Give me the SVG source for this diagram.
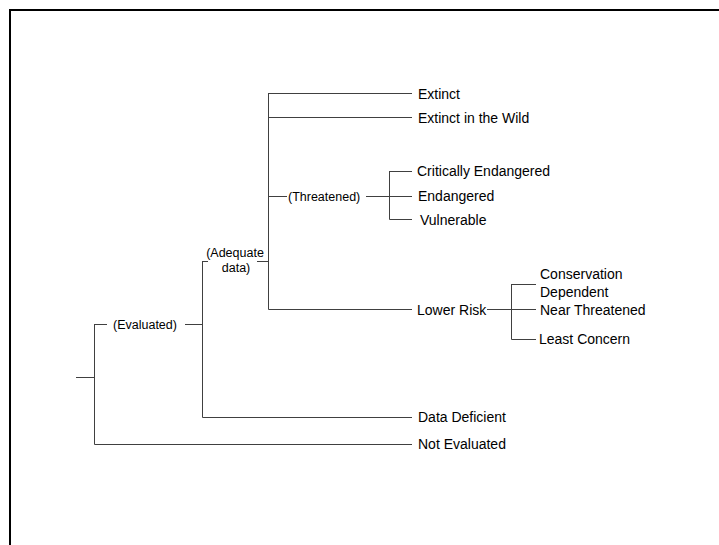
<svg xmlns="http://www.w3.org/2000/svg" width="719" height="545" viewBox="0 0 719 545">
<style>
.frame{fill:none;stroke:#000;stroke-width:2}
.ln{fill:none;stroke:#404040;stroke-width:1}
text{font-family:"Liberation Sans",Arial,sans-serif;fill:#000}
.leaf{font-size:14px}
.int{font-size:12.5px}
</style>
<rect width="719" height="545" fill="#fff"/>
<path class="frame" d="M10,545 V10 H719"/>
<g id="connectors">
<path class="ln" d="M76,377.5 H94.5 M94.5,324 V444.5 M94.5,324.5 H107 M185,324.5 H202.5 M94.5,444.5 H412"/>
<path class="ln" d="M202.5,261 V417.5 M202.5,261.5 H208 M257,261.5 H268.5 M202.5,417.5 H412"/>
<path class="ln" d="M268.5,93 V309.5 M268.5,93.5 H412 M268.5,117.5 H412 M268.5,196.5 H287 M366,196.5 H412 M268.5,309.5 H412"/>
<path class="ln" d="M389.5,171 V219.5 M389.5,171.5 H412 M389.5,219.5 H412"/>
<path class="ln" d="M487,309.5 H536 M511.5,284 V339.5 M511.5,284.5 H536 M511.5,339.5 H536"/>
</g>
<g id="evaluated"><text class="int" x="113" y="329" font-size="13">(Evaluated)</text></g>
<g id="adequate"><text class="int" x="235" y="257" text-anchor="middle">(Adequate</text><text class="int" x="236" y="272" text-anchor="middle">data)</text></g>
<g id="threatened"><text class="int" x="288" y="201">(Threatened)</text></g>
<g id="extinct"><text class="leaf" x="418" y="98.5">Extinct</text></g>
<g id="extinct-wild"><text class="leaf" x="418" y="122.5">Extinct in the Wild</text></g>
<g id="critically"><text class="leaf" x="417" y="176">Critically Endangered</text></g>
<g id="endangered"><text class="leaf" x="418" y="201">Endangered</text></g>
<g id="vulnerable"><text class="leaf" x="420" y="224.5">Vulnerable</text></g>
<g id="lower-risk"><text class="leaf" x="417" y="314.5">Lower Risk</text></g>
<g id="conservation"><text class="leaf" x="540" y="279">Conservation</text><text class="leaf" x="540" y="297">Dependent</text></g>
<g id="near-threatened"><text class="leaf" x="540" y="314.5">Near Threatened</text></g>
<g id="least-concern"><text class="leaf" x="539" y="344">Least Concern</text></g>
<g id="data-deficient"><text class="leaf" x="418" y="422">Data Deficient</text></g>
<g id="not-evaluated"><text class="leaf" x="418" y="449">Not Evaluated</text></g>
</svg>
